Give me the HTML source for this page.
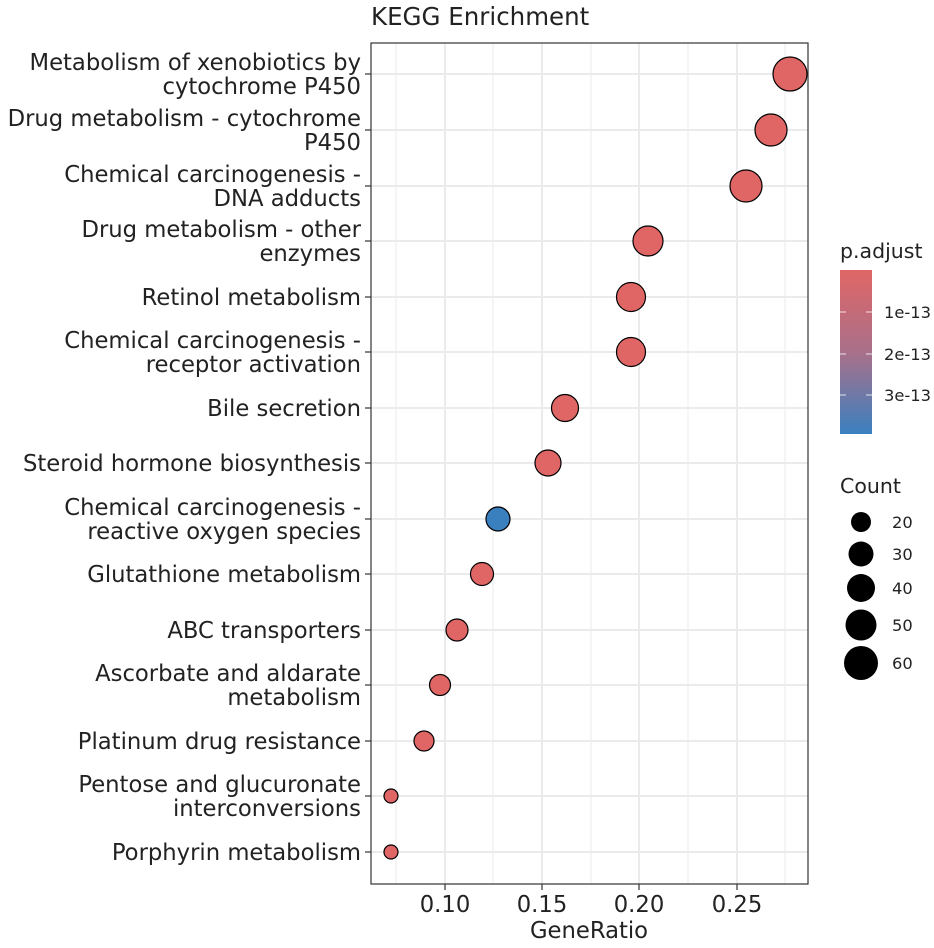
<!DOCTYPE html>
<html><head><meta charset="utf-8"><style>body{margin:0;background:#fff}</style></head><body>
<svg width="934" height="943" xmlns="http://www.w3.org/2000/svg" font-family="DejaVu Sans, sans-serif">
<defs><linearGradient id="g" x1="0" y1="0" x2="0" y2="1"><stop offset="0" stop-color="#e06666"/><stop offset="0.5" stop-color="#a9708a"/><stop offset="1" stop-color="#3a80bf"/></linearGradient></defs>
<text x="371" y="25" font-size="24.5" fill="#222">KEGG Enrichment</text>
<rect x="371" y="43" width="437" height="841" fill="#fff"/>
<g stroke="#ebebeb" stroke-width="1">
<line x1="396" y1="43" x2="396" y2="884"/><line x1="493" y1="43" x2="493" y2="884"/><line x1="591" y1="43" x2="591" y2="884"/><line x1="688" y1="43" x2="688" y2="884"/><line x1="785" y1="43" x2="785" y2="884"/>
</g>
<g stroke="#ebebeb" stroke-width="2">
<line x1="445" y1="43" x2="445" y2="884"/><line x1="542" y1="43" x2="542" y2="884"/><line x1="639" y1="43" x2="639" y2="884"/><line x1="737" y1="43" x2="737" y2="884"/>
<line x1="371" y1="74" x2="808" y2="74"/><line x1="371" y1="130" x2="808" y2="130"/><line x1="371" y1="186" x2="808" y2="186"/><line x1="371" y1="241" x2="808" y2="241"/><line x1="371" y1="297" x2="808" y2="297"/><line x1="371" y1="352" x2="808" y2="352"/><line x1="371" y1="408" x2="808" y2="408"/><line x1="371" y1="463" x2="808" y2="463"/><line x1="371" y1="519" x2="808" y2="519"/><line x1="371" y1="574" x2="808" y2="574"/><line x1="371" y1="630" x2="808" y2="630"/><line x1="371" y1="685" x2="808" y2="685"/><line x1="371" y1="741" x2="808" y2="741"/><line x1="371" y1="796" x2="808" y2="796"/><line x1="371" y1="852" x2="808" y2="852"/>
</g>
<g stroke="#000" stroke-width="1.2" fill="#e06666">
<circle cx="790" cy="74" r="17"/><circle cx="771" cy="130" r="16"/><circle cx="746" cy="186" r="16"/><circle cx="648" cy="241" r="15"/><circle cx="631" cy="297" r="14.5"/><circle cx="631" cy="352" r="14.5"/><circle cx="565" cy="408" r="13.5"/><circle cx="548" cy="463" r="13"/><circle cx="498" cy="519" r="12" fill="#3a80bf"/><circle cx="482" cy="574" r="11.5"/><circle cx="457" cy="630" r="11"/><circle cx="440" cy="685" r="10.5"/><circle cx="424" cy="741" r="10"/><circle cx="391" cy="796" r="7"/><circle cx="391" cy="852" r="7"/>
</g>
<rect x="371" y="43" width="437" height="841" fill="none" stroke="#333" stroke-width="1.2"/>
<g stroke="#333" stroke-width="1.2">
<line x1="365" y1="74" x2="371" y2="74"/><line x1="365" y1="130" x2="371" y2="130"/><line x1="365" y1="186" x2="371" y2="186"/><line x1="365" y1="241" x2="371" y2="241"/><line x1="365" y1="297" x2="371" y2="297"/><line x1="365" y1="352" x2="371" y2="352"/><line x1="365" y1="408" x2="371" y2="408"/><line x1="365" y1="463" x2="371" y2="463"/><line x1="365" y1="519" x2="371" y2="519"/><line x1="365" y1="574" x2="371" y2="574"/><line x1="365" y1="630" x2="371" y2="630"/><line x1="365" y1="685" x2="371" y2="685"/><line x1="365" y1="741" x2="371" y2="741"/><line x1="365" y1="796" x2="371" y2="796"/><line x1="365" y1="852" x2="371" y2="852"/>
<line x1="445" y1="884" x2="445" y2="890"/><line x1="542" y1="884" x2="542" y2="890"/><line x1="639" y1="884" x2="639" y2="890"/><line x1="737" y1="884" x2="737" y2="890"/>
</g>
<g font-size="22.7" fill="#222" text-anchor="end">
<text x="361" y="70">Metabolism of xenobiotics by</text><text x="361" y="94">cytochrome P450</text>
<text x="361" y="126">Drug metabolism - cytochrome</text><text x="361" y="150">P450</text>
<text x="361" y="182">Chemical carcinogenesis -</text><text x="361" y="206">DNA adducts</text>
<text x="361" y="237">Drug metabolism - other</text><text x="361" y="261">enzymes</text>
<text x="361" y="305">Retinol metabolism</text>
<text x="361" y="348">Chemical carcinogenesis -</text><text x="361" y="372">receptor activation</text>
<text x="361" y="416">Bile secretion</text>
<text x="361" y="471">Steroid hormone biosynthesis</text>
<text x="361" y="515">Chemical carcinogenesis -</text><text x="361" y="539">reactive oxygen species</text>
<text x="361" y="582">Glutathione metabolism</text>
<text x="361" y="638">ABC transporters</text>
<text x="361" y="681">Ascorbate and aldarate</text><text x="361" y="705">metabolism</text>
<text x="361" y="749">Platinum drug resistance</text>
<text x="361" y="792">Pentose and glucuronate</text><text x="361" y="816">interconversions</text>
<text x="361" y="860">Porphyrin metabolism</text>
</g>
<g font-size="22.7" fill="#222" text-anchor="middle">
<text x="445" y="912">0.10</text><text x="542" y="912">0.15</text><text x="639" y="912">0.20</text><text x="737" y="912">0.25</text>
<text x="589" y="938">GeneRatio</text>
</g>
<text x="840" y="258" font-size="20.5" fill="#222">p.adjust</text>
<rect x="840" y="270" width="32" height="164" fill="url(#g)"/>
<g stroke="#fff" stroke-width="1" opacity="0.8">
<line x1="840" y1="312" x2="846" y2="312"/><line x1="866" y1="312" x2="872" y2="312"/>
<line x1="840" y1="354" x2="846" y2="354"/><line x1="866" y1="354" x2="872" y2="354"/>
<line x1="840" y1="395" x2="846" y2="395"/><line x1="866" y1="395" x2="872" y2="395"/>
</g>
<g font-size="16.3" fill="#222">
<text x="884" y="318">1e-13</text><text x="884" y="360">2e-13</text><text x="884" y="401">3e-13</text>
</g>
<text x="840" y="493" font-size="20.5" fill="#222">Count</text>
<g fill="#000">
<circle cx="861" cy="522" r="10"/><circle cx="861" cy="554" r="12.5"/><circle cx="861" cy="588" r="14"/><circle cx="861" cy="625" r="15.5"/><circle cx="861" cy="663" r="17"/>
</g>
<g font-size="16.3" fill="#222">
<text x="892" y="528">20</text><text x="892" y="560">30</text><text x="892" y="594">40</text><text x="892" y="631">50</text><text x="892" y="669">60</text>
</g>
</svg>
</body></html>
